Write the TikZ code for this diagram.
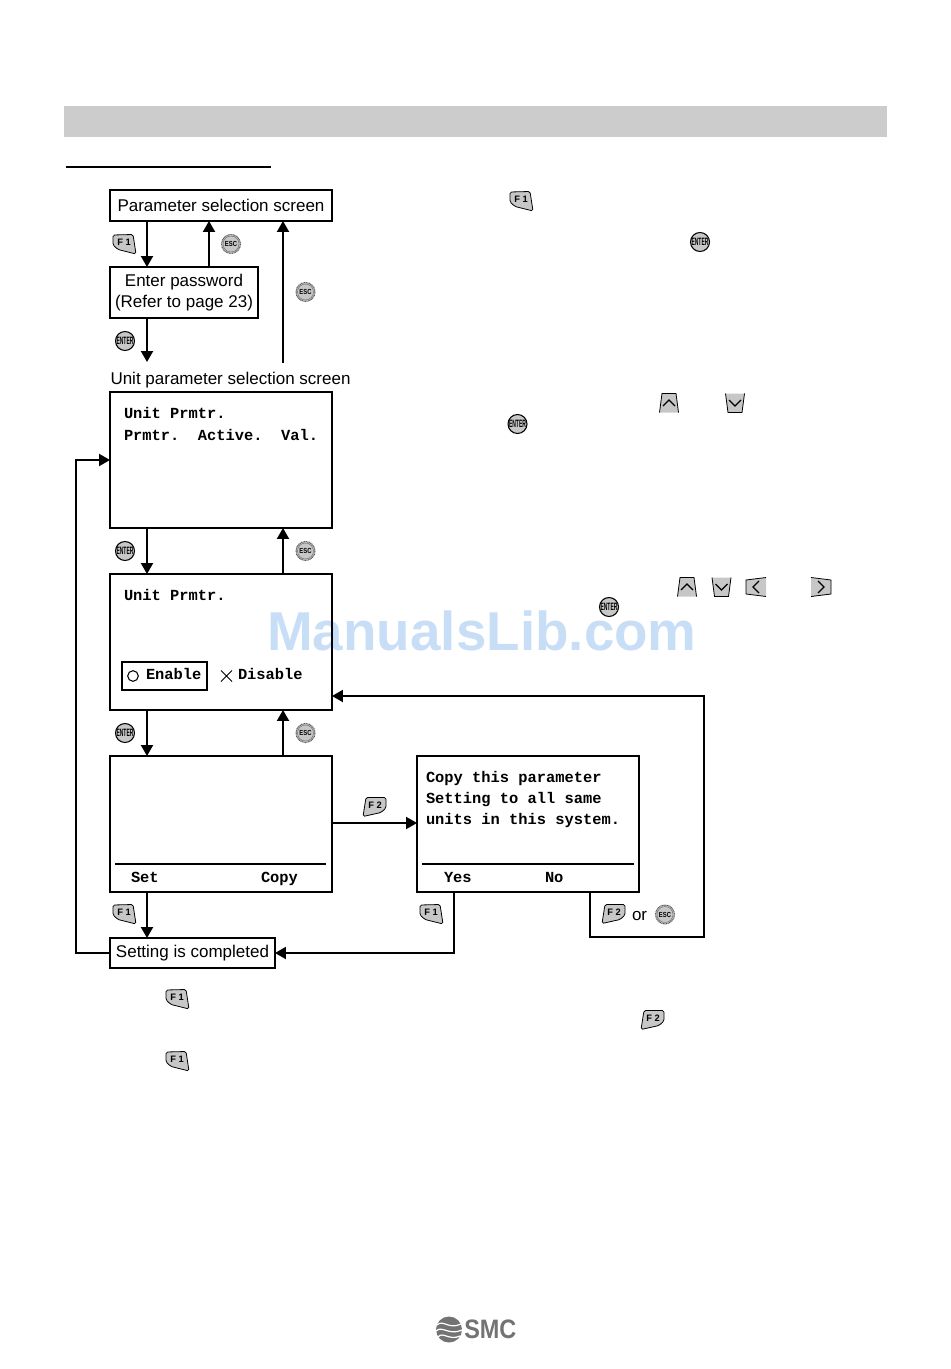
\documentclass[tikz,border=0pt]{standalone}
\usepackage{fontspec}
\usepackage{graphicx}
\setmainfont{Liberation Sans}
\newfontfamily\crt{Liberation Mono}[BoldFont={Liberation Mono Bold}]
\usetikzlibrary{arrows.meta}
\definecolor{keygray}{gray}{0.78}
\definecolor{bandgray}{gray}{0.80}
\definecolor{wm}{RGB}{200,222,247}
\definecolor{logogray}{gray}{0.45}
\tikzset{
  boxn/.style={draw=black,line width=1.4pt,inner sep=0pt,outer sep=0pt,fill=none,font=\fontsize{12.75}{16}\selectfont,align=center},
  flow/.style={line width=1.4pt,-{Triangle[length=8.2pt,width=9pt]}},
  plainline/.style={line width=1.4pt},
  lab/.style={inner sep=0pt,outer sep=0pt,font=\fontsize{12.75}{16}\selectfont,anchor=west},
  crttext/.style={inner sep=0pt,outer sep=0pt,font=\crt\bfseries\fontsize{11.55}{16.1}\selectfont,anchor=west,align=left},
  keyshape/.style={draw=black,line width=.6pt,fill=keygray},
}
\newcommand{\boxat}[6]{\node[boxn,minimum width={(#4-#2)*0.75pt},minimum height={(#5-#3)*0.75pt}] (#1) at ({(#2+#4)/2},{(#3+#5)/2}) {#6};}
\newcommand{\keyFone}[2]{\begin{scope}[shift={(#1,#2)}]
  \draw[keyshape,rounded corners=1.2pt] (-11,-9)--(9,-9.5)--(12,10)--(-6,5.5)--(-11,1)--cycle;
  \node[inner sep=0pt,font=\bfseries\fontsize{7}{7}\selectfont] at (0,-1.5) {F 1};
\end{scope}}
\newcommand{\keyFtwo}[2]{\begin{scope}[shift={(#1,#2)}]
  \draw[keyshape,rounded corners=1.2pt] (-9,-9.5)--(11,-9.5)--(11,1)--(6,5.5)--(-12,9.5)--cycle;
  \node[inner sep=0pt,font=\bfseries\fontsize{7}{7}\selectfont] at (0,-1.5) {F 2};
\end{scope}}
\newcommand{\keyEnter}[2]{\begin{scope}[shift={(#1,#2)}]
  \draw[keyshape,line width=.8pt] (0,0) circle[radius=9.5];
  \node[inner sep=0pt,font=\bfseries\fontsize{8}{9}\selectfont] at (0,0) {\scalebox{0.47}[1]{ENTER}};
\end{scope}}
\newcommand{\keyEsc}[2]{\begin{scope}[shift={(#1,#2)}]
  \draw[draw=black!65,line width=.8pt,dash pattern=on .7pt off .5pt,fill=keygray] (0,0) circle[radius=9.5];
  \draw[draw=black!60,line width=.3pt] (0,0) circle[radius=8];
  \node[inner sep=0pt,font=\bfseries\fontsize{5.5}{6}\selectfont] at (0,0) {\scalebox{0.8}[1]{ESC}};
\end{scope}}
\newcommand{\keyUp}[2]{\begin{scope}[shift={(#1,#2)}]
  \fill[keygray] (-9.5,9.5)--(-7,-9.5)--(7,-9.5)--(9.5,9.5)--cycle;
  \draw[line width=.6pt] (-9.5,9.5)--(-7,-9.5)--(7,-9.5)--(9.5,9.5);
  \draw[line width=.9pt] (-6,3)--(0,-3)--(6,3);
\end{scope}}
\newcommand{\keyDown}[2]{\begin{scope}[shift={(#1,#2)}]
  \fill[keygray] (-9.5,-9.5)--(-7,9.5)--(7,9.5)--(9.5,-9.5)--cycle;
  \draw[line width=.6pt] (-9.5,-9.5)--(-7,9.5)--(7,9.5)--(9.5,-9.5);
  \draw[line width=.9pt] (-6,-3)--(0,3)--(6,-3);
\end{scope}}
\newcommand{\keyLeft}[2]{\begin{scope}[shift={(#1,#2)}]
  \fill[keygray] (10,-9.5)--(-10,-7)--(-10,7)--(10,9.5)--cycle;
  \draw[line width=.6pt] (10,-9.5)--(-10,-7)--(-10,7)--(10,9.5);
  \draw[line width=.9pt] (3,-6)--(-3,0)--(3,6);
\end{scope}}
\newcommand{\keyRight}[2]{\begin{scope}[shift={(#1,#2)}]
  \fill[keygray] (-10,-9.5)--(10,-7)--(10,7)--(-10,9.5)--cycle;
  \draw[line width=.6pt] (-10,-9.5)--(10,-7)--(10,7)--(-10,9.5);
  \draw[line width=.9pt] (-3,-6)--(3,0)--(-3,6);
\end{scope}}
\begin{document}
\begin{tikzpicture}[x=0.75pt,y=-0.75pt]
\useasboundingbox (0,0) rectangle (950,1369);
% header
\fill[bandgray] (64,106) rectangle (887,137);
\draw[line width=1pt] (66,167) -- (271,167);
% watermark
\node[inner sep=0pt,text=wm,font=\bfseries\fontsize{41.1}{41}\selectfont] (mark) at (482,631) {ManualsLib.com};
% boxes
\boxat{param}{110}{190}{332}{221}{Parameter selection screen}
\boxat{pwd}{110}{267}{258}{318}{Enter password\\(Refer to page 23)}
\boxat{unit}{110}{392}{332}{528}{}
\boxat{enab}{110}{574}{332}{710}{}
\boxat{setb}{110}{756}{332}{892}{}
\boxat{copyb}{417}{756}{639}{892}{}
\boxat{done}{110}{938}{275}{968}{Setting is completed}
\boxat{sel}{122}{662}{207}{690}{}
% titles and screen text
\node[lab] (ttl) at (110.5,380) {Unit parameter selection screen};
\node[crttext] (t1) at (124,424) {Unit Prmtr.\\Prmtr.\ \ Active.\ \ Val.};
\node[crttext] (t2) at (124,595) {Unit Prmtr.};
\node[crttext] (t3) at (146,674) {Enable};
\node[crttext] (t4) at (238,674) {Disable};
\node[crttext] (t5) at (426,799.5) {Copy this parameter\\Setting to all same\\units in this system.};
\node[crttext] (t6) at (131,877) {Set};
\node[crttext,anchor=base west] (t7) at (261,882) {Copy};
\node[crttext] (t8) at (444,877) {Yes};
\node[crttext] (t9) at (545,877) {No};
\draw[line width=.8pt] (133,676) circle[radius=5.3];
\draw[line width=.7pt] (221,670.5) -- (232,681.5) (232,670.5) -- (221,681.5);
\draw[plainline] (115,864) -- (326,864);
\draw[plainline] (422,864) -- (634,864);
% connector guides
\coordinate (xa) at (147,0);
\coordinate (xb) at (209,0);
\coordinate (xc) at (283,0);
\coordinate (xd) at (454,0);
\coordinate (xe) at (590,0);
\coordinate (xl) at (76,0);
\coordinate (xr) at (704,0);
\coordinate (yu) at (0,460);
\coordinate (yf) at (0,823);
\coordinate (yr) at (0,696);
\coordinate (yb) at (0,937);
\coordinate (yd) at (0,953);
\coordinate (ea) at (147,362);
\coordinate (ec) at (283,363);
% connectors
\draw[flow] (param.south -| xa) -- (pwd.north -| xa);
\draw[flow] (pwd.north -| xb) -- (param.south -| xb);
\draw[flow] (ec) -- (param.south -| ec);
\draw[flow] (pwd.south -| xa) -- (ea);
\draw[flow] (unit.south -| xa) -- (enab.north -| xa);
\draw[flow] (enab.north -| xc) -- (unit.south -| xc);
\draw[flow] (enab.south -| xa) -- (setb.north -| xa);
\draw[flow] (setb.north -| xc) -- (enab.south -| xc);
\draw[flow] (setb.south -| xa) -- (done.north -| xa);
\draw[flow] (setb.east |- yf) -- (copyb.west |- yf);
\draw[flow] (done.west |- yd) -- (xl |- yd) -- (xl |- yu) -- (unit.west |- yu);
\draw[flow] (copyb.south -| xd) -- (xd |- yd) -- (done.east |- yd);
\draw[flow] (copyb.south -| xe) -- (xe |- yb) -- (xr |- yb) -- (xr |- yr) -- (enab.east |- yr);
% key icons
\keyFone{124}{244}\keyEsc{231}{244}\keyEsc{305.5}{292}\keyEnter{125}{341}
\keyEnter{125}{551}\keyEsc{305.5}{551}\keyEnter{125}{733}\keyEsc{305.5}{733}
\keyFtwo{375}{807}\keyFone{124}{914}\keyFone{431}{914}\keyFtwo{614}{914}
\node[lab] (orw) at (632,916) {or};
\keyEsc{665}{914.5}
\keyFone{521}{201}\keyEnter{700}{242}\keyUp{669}{403}\keyDown{735}{403}\keyEnter{517.5}{424}
\keyUp{687}{587}\keyDown{721.5}{587}\keyLeft{756}{587}\keyRight{821}{587}\keyEnter{609}{607}
\keyFone{177}{999}\keyFtwo{653}{1020}\keyFone{177}{1061}
% logo
\fill[logogray] (449,1329.5) circle[radius=13];
\draw[white,line width=.9pt] (437,1325) .. controls (443,1319) and (449,1330) .. (461,1324);
\draw[white,line width=.9pt] (436,1331) .. controls (442,1325) and (449,1336) .. (462,1330);
\draw[white,line width=.9pt] (438,1337) .. controls (443,1331) and (449,1341) .. (460,1336);
\node[inner sep=0pt,text=logogray,font=\bfseries\fontsize{20}{20}\selectfont,anchor=west] (smc) at (464,1329.5) {\scalebox{0.88}[1]{SMC}};
\end{tikzpicture}
\end{document}
